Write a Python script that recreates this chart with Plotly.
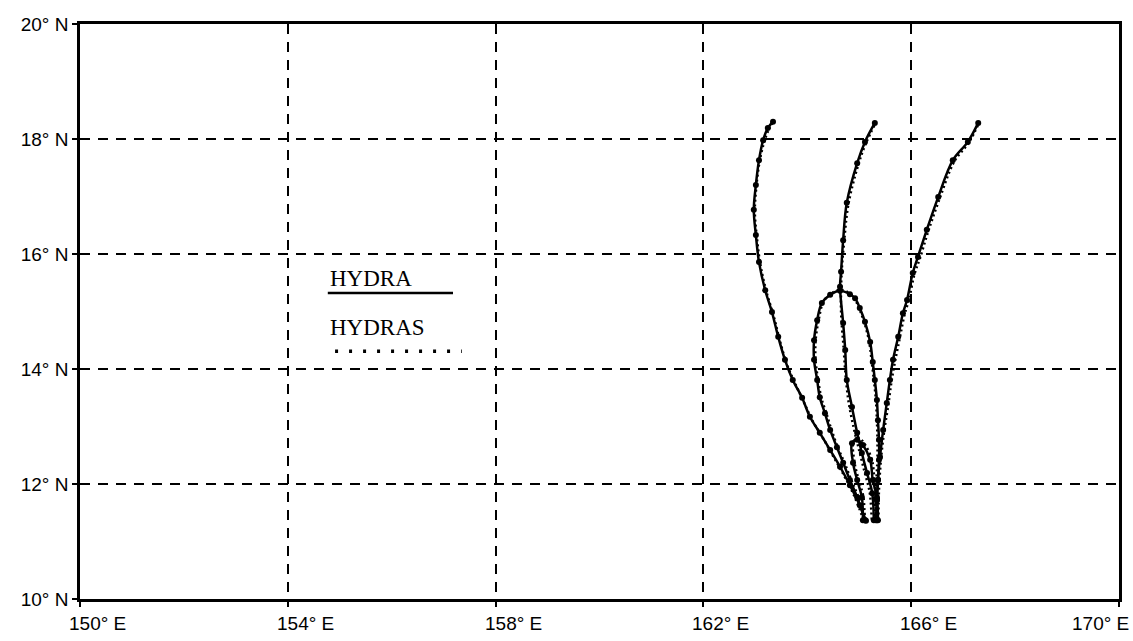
import plotly.graph_objects as go

# ---- Track data (longitude °E, latitude °N) ----
# HYDRA forecasts
hydra_a_lon = [165.13, 165.01, 164.82, 164.63, 164.44, 164.24, 164.05, 163.90, 163.72, 163.57, 163.44,
               163.32, 163.19, 163.07, 163.01, 162.97, 163.01, 163.07, 163.15, 163.24, 163.34]
hydra_a_lat = [11.36, 11.63, 11.98, 12.30, 12.59, 12.89, 13.17, 13.50, 13.81, 14.16, 14.56,
               14.99, 15.37, 15.86, 16.33, 16.77, 17.20, 17.63, 17.98, 18.19, 18.30]

hydra_b_lon = [165.28, 165.25, 165.15, 165.05, 164.96, 164.86, 164.76, 164.73, 164.69, 164.63, 164.65,
               164.69, 164.76, 164.96, 165.11, 165.30]
hydra_b_lat = [11.37, 11.84, 12.19, 12.54, 12.89, 13.34, 13.81, 14.33, 14.80, 15.43, 15.69,
               16.24, 16.89, 17.58, 17.95, 18.28]

hydra_c_lon = [165.34, 165.34, 165.36, 165.40, 165.46, 165.53, 165.59, 165.65, 165.75, 165.84, 165.92,
               166.03, 166.13, 166.30, 166.52, 166.80, 167.09, 167.29]
hydra_c_lat = [11.37, 11.72, 12.07, 12.47, 12.94, 13.41, 13.81, 14.16, 14.56, 14.97, 15.20,
               15.67, 15.95, 16.42, 16.99, 17.63, 17.95, 18.28]

hydra_d_lon = [165.11, 164.96, 164.82, 164.69, 164.57, 164.44, 164.34, 164.24, 164.19, 164.13, 164.13,
               164.19, 164.28, 164.44, 164.63, 164.82, 164.92, 165.01, 165.11, 165.21, 165.26, 165.30,
               165.34, 165.36, 165.38, 165.38, 165.36, 165.34, 165.32]
hydra_d_lat = [11.37, 11.77, 12.07, 12.37, 12.64, 12.94, 13.23, 13.51, 13.81, 14.16, 14.50,
               14.85, 15.15, 15.29, 15.36, 15.30, 15.23, 15.06, 14.82, 14.47, 14.12, 13.81,
               13.46, 13.11, 12.77, 12.42, 12.07, 11.72, 11.37]

hydra_e_lon = [165.07, 165.05, 164.96, 164.88, 164.86, 164.96, 165.07, 165.21, 165.26, 165.34, 165.36]
hydra_e_lat = [11.37, 11.77, 12.07, 12.37, 12.71, 12.77, 12.68, 12.42, 12.07, 11.77, 11.37]

# HYDRAS forecasts
hydras_a_lon = [165.08, 164.90, 164.70, 164.50, 164.30, 164.10, 163.93, 163.76, 163.60, 163.47,
                163.35, 163.22, 163.10, 163.03, 162.99, 163.02, 163.08, 163.17, 163.26, 163.35]
hydras_a_lat = [11.38, 11.80, 12.16, 12.48, 12.80, 13.10, 13.43, 13.76, 14.10, 14.50,
                14.93, 15.32, 15.80, 16.28, 16.74, 17.18, 17.60, 17.95, 18.17, 18.31]

hydras_b_lon = [165.24, 165.20, 165.10, 165.00, 164.90, 164.80, 164.74, 164.70, 164.65, 164.66,
                164.71, 164.79, 164.98, 165.13, 165.31]
hydras_b_lat = [11.38, 11.86, 12.22, 12.58, 12.95, 13.40, 13.86, 14.36, 15.00, 15.66,
                16.22, 16.86, 17.55, 17.93, 18.27]

hydras_c_lon = [165.37, 165.38, 165.42, 165.48, 165.56, 165.62, 165.69, 165.78, 165.87, 165.96,
                166.06, 166.17, 166.33, 166.55, 166.83, 167.11, 167.31]
hydras_c_lat = [11.38, 11.90, 12.45, 12.92, 13.38, 13.78, 14.14, 14.54, 14.94, 15.22,
                15.64, 15.93, 16.40, 16.97, 17.61, 17.94, 18.29]

hydras_d_lon = [165.14, 164.99, 164.85, 164.72, 164.59, 164.47, 164.37, 164.27, 164.21, 164.16,
                164.16, 164.22, 164.31, 164.46, 164.64, 164.81, 164.90, 164.99, 165.09, 165.19,
                165.24, 165.28, 165.32, 165.34, 165.35, 165.35, 165.33, 165.31, 165.30]
hydras_d_lat = [11.38, 11.76, 12.06, 12.36, 12.63, 12.93, 13.22, 13.50, 13.80, 14.15,
                14.50, 14.86, 15.17, 15.31, 15.38, 15.32, 15.24, 15.07, 14.83, 14.48,
                14.13, 13.82, 13.47, 13.12, 12.78, 12.43, 12.08, 11.73, 11.38]

hydras_e_lon = [165.10, 165.08, 164.99, 164.91, 164.89, 164.99, 165.10, 165.24, 165.29, 165.31, 165.33]
hydras_e_lat = [11.37, 11.77, 12.07, 12.37, 12.73, 12.80, 12.70, 12.43, 12.08, 11.77, 11.37]

hydra_tracks = [(hydra_a_lon, hydra_a_lat), (hydra_b_lon, hydra_b_lat), (hydra_c_lon, hydra_c_lat),
                (hydra_d_lon, hydra_d_lat), (hydra_e_lon, hydra_e_lat)]
hydras_tracks = [(hydras_a_lon, hydras_a_lat), (hydras_b_lon, hydras_b_lat), (hydras_c_lon, hydras_c_lat),
                 (hydras_d_lon, hydras_d_lat), (hydras_e_lon, hydras_e_lat)]

# ---- Axis ticks ----
lon_ticks = [150, 154, 158, 162, 166, 170]
lon_labels = ["150° E", "154° E", "158° E", "162° E", "166° E", "170° E"]
lat_ticks = [10, 12, 14, 16, 18, 20]
lat_labels = ["10° N", "12° N", "14° N", "16° N", "18° N", "20° N"]

fig = go.Figure()

for lon, lat in hydras_tracks:
    fig.add_trace(go.Scatter(
        x=lon, y=lat, mode="lines",
        line=dict(color="black", width=2.5, dash="2px,3px", shape="spline"),
        showlegend=False, hoverinfo="skip"))

for lon, lat in hydra_tracks:
    fig.add_trace(go.Scatter(
        x=lon, y=lat, mode="lines+markers",
        line=dict(color="black", width=2.5, shape="spline"),
        marker=dict(color="black", size=6, symbol="circle"),
        showlegend=False, hoverinfo="skip"))

# ---- Legend drawn inside the map ----
legend_font = dict(family="Liberation Serif", size=23, color="black")
fig.add_annotation(x=154.77, y=15.58, xref="x", yref="y", text="HYDRA", showarrow=False,
                   xanchor="left", yanchor="middle", font=legend_font)
fig.add_shape(type="line", x0=154.77, x1=157.18, y0=15.32, y1=15.32, xref="x", yref="y",
              line=dict(color="black", width=2.5))
fig.add_annotation(x=154.77, y=14.73, xref="x", yref="y", text="HYDRAS", showarrow=False,
                   xanchor="left", yanchor="middle", font=legend_font)
fig.add_shape(type="line", x0=154.91, x1=157.35, y0=14.31, y1=14.31, xref="x", yref="y",
              line=dict(color="black", width=3.5, dash="3px,11px"))

# ---- Longitude labels (left-aligned just before each tick; last one kept inside the page) ----
axis_font = dict(family="Liberation Sans", size=19, color="black")
for val, lab in zip(lon_ticks, lon_labels):
    if val == lon_ticks[-1]:
        fig.add_annotation(x=val, y=0, xref="x", yref="paper", text=lab, showarrow=False,
                           xanchor="right", yanchor="top", xshift=12, yshift=-12, font=axis_font)
    else:
        fig.add_annotation(x=val, y=0, xref="x", yref="paper", text=lab, showarrow=False,
                           xanchor="left", yanchor="top", xshift=-13, yshift=-12, font=axis_font)

common = dict(
    showgrid=True, gridcolor="black", gridwidth=2, griddash="10px,8px",
    showline=True, linecolor="black", linewidth=2.5, mirror=True,
    ticks="outside", ticklen=5, tickwidth=1.5, tickcolor="black",
    zeroline=False,
)

fig.update_xaxes(range=[150, 170], tickmode="array", tickvals=lon_ticks, showticklabels=False, **common)
fig.update_yaxes(range=[10, 20], tickmode="array", tickvals=lat_ticks, ticktext=lat_labels,
                 tickfont=dict(family="Liberation Sans", size=19, color="black"), **common)

fig.update_layout(
    width=1133, height=641,
    margin=dict(l=80, r=14, t=24, b=42),
    plot_bgcolor="white", paper_bgcolor="white",
    showlegend=False,
)

fig.write_html("out.html")
